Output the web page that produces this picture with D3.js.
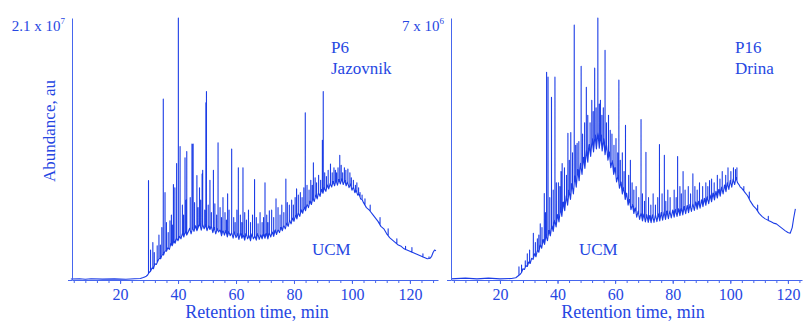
<!DOCTYPE html>
<html>
<head>
<meta charset="utf-8">
<script src="https://cdn.jsdelivr.net/npm/d3@7"></script>
<style>
  body { margin: 0; background: #fff; }
  text { font-family: "Liberation Serif", "Times New Roman", serif; fill: #2647e2; }
</style>
</head>
<body>
<div id="chart"></div>
<script>
// retention time (min) vs abundance (units of 1e6 au)
const tickLabels = [20, 40, 60, 80, 100, 120];

// P6 Jazovnik: noisy unresolved hump (UCM) and resolved peaks
const p6Base = [[3,0.08],[6,0.1],[8,0.06],[10,0.1],[14,0.07],[18,0.09],[22,0.06],[25,0.1],[27,0.12],[28,0.2],[28.5,0.25],[29,0.3],[29.5,0.4],[30,0.6],[30.5,0.7],[31,0.95],[31.5,0.9],[32,1.3],[32.5,1.25],[33,1.5],[33.5,1.75],[34,1.7],[34.5,2.05],[35,2.0],[35.5,2.35],[36,2.3],[36.5,2.6],[37,2.45],[37.5,2.9],[38,2.75],[38.5,3.1],[39,2.95],[39.5,3.35],[40,3.15],[40.5,3.5],[41,3.3],[41.5,3.75],[42,3.45],[42.5,3.9],[43,3.6],[43.5,3.85],[44,4.15],[44.5,3.7],[45,4.2],[45.5,3.9],[46,4.35],[46.5,3.95],[47,4.25],[47.5,4.5],[48,4.0],[48.5,4.45],[49,4.1],[49.5,4.4],[50,3.95],[50.5,4.35],[51,4.05],[51.5,4.3],[52,3.8],[52.5,4.2],[53,3.7],[53.5,4.1],[54,3.85],[54.5,4.05],[55,3.55],[55.5,4.0],[56,3.6],[56.5,3.95],[57,3.45],[57.5,3.9],[58,3.55],[58.5,3.8],[59,3.35],[59.5,3.85],[60,3.4],[60.5,3.7],[61,3.25],[61.5,3.8],[62,3.35],[62.5,3.6],[63,3.2],[63.5,3.75],[64,3.3],[64.5,3.55],[65,3.15],[65.5,3.7],[66,3.3],[66.5,3.5],[67,3.2],[67.5,3.75],[68,3.25],[68.5,3.6],[69,3.3],[69.5,3.7],[70,3.35],[70.5,3.75],[71,3.3],[71.5,3.8],[72,3.45],[72.5,3.85],[73,3.5],[73.5,4.0],[74,3.65],[74.5,4.05],[75,3.8],[75.5,4.2],[76,3.95],[76.5,4.4],[77,4.1],[77.5,4.55],[78,4.3],[78.5,4.8],[79,4.5],[79.5,4.95],[80,4.7],[80.5,5.2],[81,4.9],[81.5,5.4],[82,5.1],[82.5,5.6],[83,5.35],[83.5,5.85],[84,5.55],[84.5,6.1],[85,5.8],[85.5,6.3],[86,6.05],[86.5,6.55],[87,6.3],[87.5,6.8],[88,6.5],[88.5,7.0],[89,6.7],[89.5,7.25],[90,6.95],[90.5,7.4],[91,7.1],[91.5,7.6],[92,7.3],[92.5,7.75],[93,7.45],[93.5,7.9],[94,7.55],[94.5,8.0],[95,7.6],[95.5,8.05],[96,7.7],[96.5,8.1],[97,7.65],[97.5,8.0],[98,7.55],[98.5,7.85],[99,7.4],[99.5,7.7],[100,7.2],[100.5,7.45],[101,7.0],[101.5,7.15],[102,6.8],[102.5,6.85],[103,6.5],[103.5,6.45],[104,6.2],[105,5.8],[106,5.6],[107,5.3],[108,5.0],[109,4.7],[110,4.3],[111,4.1],[112,3.7],[113,3.4],[114,3.2],[115,3.0],[116,2.8],[117,2.7],[118,2.5],[119,2.4],[120,2.3],[121,2.2],[122,2.1],[123,2.0],[124,1.9],[125,1.8],[126,1.7],[127,1.75],[127.5,1.9],[128,2.2],[128.5,2.4],[129,2.35]];
const p6Peaks = [[29.8,7.97],[32.8,2.74],[34.9,14.5],[35.5,7.0],[37.2,4.75],[38.4,7.65],[38.9,7.4],[39.5,9.34],[40.1,21.0],[40.7,10.7],[42.4,9.8],[43.0,10.3],[44.8,10.9],[45.2,10.9],[46.5,8.37],[47.4,7.4],[48.3,8.5],[48.5,8.8],[49.6,14.2],[49.8,15.1],[51.0,8.0],[52.2,8.8],[53.8,11.0],[55.5,6.6],[57.1,6.9],[58.5,10.5],[60.8,9.0],[62.4,9.0],[66.4,8.05],[70.0,7.8],[71.5,5.55],[73.8,6.5],[77.2,8.1],[80.9,7.3],[83.9,13.4],[86.7,9.4],[89.8,11.2],[90.1,15.1],[92.6,9.3],[94.3,8.8],[95.2,9.0],[95.8,10.0],[98.6,8.9],[101.7,7.8]];
const p6Small = [[30.5,2.4],[31.3,3.0],[31.8,2.2],[33.4,3.6],[33.9,2.8],[34.4,4.2],[36.0,4.6],[36.6,3.8],[37.7,5.2],[38.0,4.4],[41.5,6.0],[41.9,5.2],[42.8,6.4],[44.2,6.6],[45.7,6.2],[46.9,5.8],[47.8,6.4],[49.2,5.6],[50.4,6.0],[51.5,5.4],[52.7,6.1],[53.3,5.2],[54.5,5.8],[55.0,5.0],[56.2,5.4],[56.7,4.8],[57.6,5.6],[59.2,5.0],[59.7,4.6],[60.3,5.6],[61.5,5.2],[62.0,4.6],[63.0,5.4],[63.6,4.8],[64.3,5.6],[65.0,4.6],[65.7,5.2],[67.0,5.0],[67.6,4.5],[68.3,5.4],[69.0,4.6],[69.5,5.0],[70.6,5.2],[71.0,4.6],[72.3,5.6],[73.0,5.0],[74.5,5.8],[75.2,5.2],[75.8,6.0],[76.5,5.4],[77.7,6.2],[78.4,6.0],[79.2,6.4],[79.8,6.0],[80.4,6.6],[81.5,6.8],[82.2,7.0],[82.8,6.6],[83.4,7.4],[84.5,7.6],[85.2,7.2],[85.8,8.0],[86.3,7.6],[87.3,8.2],[87.8,7.8],[88.5,8.4],[89.2,8.0],[90.6,8.6],[91.2,8.3],[91.8,8.8],[93.2,8.6],[93.8,9.0],[94.7,8.6],[96.3,9.2],[96.8,8.6],[97.4,9.0],[97.9,8.8],[99.3,8.6],[99.8,8.2],[100.5,8.0],[101.2,7.6],[102.3,7.4],[102.8,7.0],[103.5,6.8],[104.5,6.5],[106.3,6.0],[109.7,5.0],[112.5,4.1],[115.5,3.3],[118.5,2.7],[120.7,2.6],[124.5,2.1],[126.6,1.85]];

// P16 Drina
const p16Base = [[3,0.03],[8,0.05],[12,0.03],[16,0.05],[20,0.03],[24,0.04],[25.5,0.06],[27,0.15],[27.5,0.2],[28,0.3],[28.5,0.28],[29,0.38],[29.5,0.36],[30,0.48],[30.5,0.44],[31,0.58],[31.5,0.55],[32,0.7],[32.5,0.62],[33,0.8],[33.5,0.74],[34,0.95],[34.5,0.85],[35,1.08],[35.5,0.95],[36,1.2],[36.5,1.05],[37,1.32],[37.5,1.18],[38,1.45],[38.5,1.3],[39,1.6],[39.5,1.42],[40,1.75],[40.5,1.55],[41,1.92],[41.5,1.7],[42,2.08],[42.5,1.85],[43,2.25],[43.5,2.0],[44,2.4],[44.5,2.15],[45,2.58],[45.5,2.3],[46,2.78],[46.5,2.48],[47,2.95],[47.5,2.65],[48,3.12],[48.5,2.82],[49,3.28],[49.5,2.98],[50,3.48],[50.5,3.15],[51,3.62],[51.5,3.3],[52,3.78],[52.5,3.42],[53,3.88],[53.5,3.5],[54,3.95],[54.5,3.52],[55,3.88],[55.5,3.45],[56,3.78],[56.5,3.35],[57,3.62],[57.5,3.2],[58,3.42],[58.5,3.0],[59,3.2],[59.5,2.82],[60,3.0],[60.5,2.62],[61,2.8],[61.5,2.45],[62,2.62],[62.5,2.3],[63,2.48],[63.5,2.15],[64,2.32],[64.5,2.0],[65,2.15],[65.5,1.88],[66,2.02],[66.5,1.78],[67,1.92],[67.5,1.68],[68,1.84],[68.5,1.62],[69,1.8],[69.5,1.58],[70,1.76],[70.5,1.55],[71,1.74],[71.5,1.54],[72,1.72],[72.5,1.53],[73,1.74],[73.5,1.54],[74,1.75],[74.5,1.56],[75,1.77],[75.5,1.58],[76,1.8],[76.5,1.6],[77,1.82],[77.5,1.62],[78,1.84],[78.5,1.64],[79,1.85],[79.5,1.66],[80,1.87],[80.5,1.68],[81,1.89],[81.5,1.7],[82,1.9],[82.5,1.72],[83,1.93],[83.5,1.74],[84,1.96],[84.5,1.77],[85,1.99],[85.5,1.8],[86,2.02],[86.5,1.83],[87,2.05],[87.5,1.86],[88,2.08],[88.5,1.89],[89,2.1],[89.5,1.92],[90,2.14],[90.5,1.96],[91,2.18],[91.5,2.0],[92,2.22],[92.5,2.04],[93,2.27],[93.5,2.09],[94,2.32],[94.5,2.14],[95,2.37],[95.5,2.19],[96,2.42],[96.5,2.24],[97,2.48],[97.5,2.3],[98,2.54],[98.5,2.36],[99,2.6],[99.5,2.42],[100,2.66],[100.5,2.48],[101,2.7],[101.5,2.55],[102,2.74],[102.5,2.6],[103,2.55],[103.5,2.48],[104,2.45],[105,2.35],[106,2.25],[107,2.1],[108,1.98],[109,1.9],[110,1.78],[111,1.7],[112,1.64],[113,1.6],[114,1.56],[115,1.52],[116,1.5],[117,1.44],[118,1.38],[119,1.32],[120,1.27],[120.8,1.25],[121.5,1.4],[122,1.65],[122.6,1.9]];
const p16Peaks = [[26.6,0.35],[28.8,0.51],[31.6,1.25],[33.0,1.1],[34.0,1.5],[35.4,2.31],[36.2,5.55],[36.7,5.42],[37.9,4.88],[39.1,5.42],[40.3,2.6],[41.6,3.11],[43.6,3.92],[44.6,3.94],[45.8,6.81],[46.8,3.65],[48.2,5.71],[50.0,5.15],[51.9,4.8],[52.9,5.66],[54.0,7.0],[54.9,4.8],[56.5,6.14],[58.3,4.0],[60.3,3.78],[61.3,5.34],[63.6,4.13],[65.3,3.2],[69.0,4.29],[70.7,3.41],[75.4,3.62],[77.1,3.33],[81.7,3.3],[83.6,2.9],[87.0,2.84],[92.8,2.66]];
const p16Small = [[27.5,0.4],[29.5,0.7],[30.3,0.8],[32.3,1.0],[33.5,1.2],[34.6,1.4],[35.8,1.8],[37.3,2.2],[38.5,2.4],[39.6,2.6],[40.8,2.5],[41.2,2.9],[42.4,3.0],[43.1,2.8],[44.1,3.2],[45.2,3.4],[46.3,3.6],[47.4,3.7],[48.7,3.9],[49.4,4.2],[50.5,4.4],[51.3,4.2],[52.4,4.5],[53.4,4.6],[54.5,4.7],[55.4,4.4],[55.9,4.6],[57.0,4.2],[57.7,4.4],[58.9,3.9],[59.6,3.6],[60.9,3.4],[61.8,3.2],[62.5,3.4],[63.1,2.9],[64.7,2.8],[65.9,2.6],[66.5,2.4],[67.3,2.5],[68.2,2.2],[69.5,2.3],[70.2,2.1],[71.6,2.2],[72.4,2.0],[73.2,2.3],[74.0,2.0],[74.8,2.2],[76.3,2.3],[77.6,2.1],[78.3,2.4],[79.1,2.2],[80.5,2.4],[81.2,2.2],[82.5,2.5],[83.0,2.3],[84.3,2.4],[85.4,2.5],[86.2,2.3],[87.7,2.5],[88.5,2.4],[89.3,2.6],[90.4,2.5],[91.5,2.6],[92.2,2.5],[93.5,2.7],[94.4,2.6],[95.5,2.8],[96.4,2.7],[97.2,2.9],[98.4,2.8],[99.2,3.0],[100.2,2.9],[101.1,3.0],[101.8,2.95],[102.3,3.0],[104.7,2.5],[106.6,2.35],[109.5,2.0],[113.2,1.7]];

const width = 807, height = 323;
const traceColor = "#1c3de6";
const axisColor = "#4666ee";

const svg = d3.select("#chart").append("svg")
  .attr("width", width)
  .attr("height", height);

// baseline value under a spike, so the spike starts on the hump
function baseAt(base, t) {
  const i = d3.bisector(d => d[0]).left(base, t);
  if (i <= 0) return base[0][1];
  if (i >= base.length) return base[base.length - 1][1];
  const a = base[i - 1], b = base[i];
  return a[1] + (b[1] - a[1]) * (t - a[0]) / (b[0] - a[0]);
}

function drawPanel(p) {
  const x = d3.scaleLinear().domain(p.xDomain).range(p.xRange);
  const y = d3.scaleLinear().domain([0, p.yMax]).range([280, 18]);
  const g = svg.append("g");

  // merge hump and spikes into one trace
  const spikes = p.peaks.concat(p.small);
  const pts = p.base.map(d => ({ t: d[0], v: d[1], k: 0 }));
  spikes.forEach(s => {
    const b = baseAt(p.base, s[0]);
    pts.push({ t: s[0] - 0.001, v: b, k: 1 });
    pts.push({ t: s[0], v: s[1], k: 2 });
    pts.push({ t: s[0] + 0.001, v: b, k: 3 });
  });
  pts.sort((a, b) => a.t - b.t || a.k - b.k);

  const line = d3.line().x(d => x(d.t)).y(d => y(d.v));
  g.append("path")
    .datum(pts)
    .attr("d", line)
    .attr("fill", "none")
    .attr("stroke", traceColor)
    .attr("stroke-width", 1.1)
    .attr("stroke-linejoin", "round");

  // x axis: labelled ticks every 20 min, minor every 4 min
  const minor = d3.range(4, p.xDomain[1], 4);
  g.append("g")
    .attr("transform", "translate(0,280)")
    .call(d3.axisBottom(x).tickValues(minor).tickSize(3).tickSizeOuter(0).tickFormat(""))
    .call(a => a.selectAll("path,line").attr("stroke", axisColor));
  g.append("g")
    .attr("transform", "translate(0,280)")
    .call(d3.axisBottom(x).tickValues(tickLabels).tickSize(4).tickSizeOuter(0).tickPadding(5))
    .call(a => a.select(".domain").remove())
    .call(a => a.selectAll("line").attr("stroke", axisColor))
    .call(a => a.selectAll("text")
      .attr("fill", "#2647e2")
      .style("font-size", "16px")
      .style("font-family", '"Liberation Serif", serif'));

  // y axis: bare line with a tick at zero
  g.append("g")
    .attr("transform", `translate(${p.xRange[0]},0)`)
    .call(d3.axisLeft(y).tickValues([0]).tickSize(4).tickSizeOuter(0).tickFormat(""))
    .call(a => a.selectAll("path,line").attr("stroke", axisColor));

  const sc = g.append("text")
    .attr("x", p.xRange[0] - 7)
    .attr("y", 31)
    .attr("text-anchor", "end")
    .style("font-size", "15px");
  sc.append("tspan").text(p.scaleText);
  sc.append("tspan").attr("dy", -7).style("font-size", "9px").text(p.scaleExp);

  g.append("text").attr("x", p.nameX).attr("y", 53).style("font-size", "17px").text(p.name1);
  g.append("text").attr("x", p.nameX).attr("y", 74).style("font-size", "17px").text(p.name2);
  g.append("text").attr("x", p.ucmX).attr("y", 255).style("font-size", "17px").text("UCM");

  g.append("text")
    .attr("x", p.titleX)
    .attr("y", 318)
    .attr("text-anchor", "middle")
    .style("font-size", "18px")
    .text("Retention time, min");
}

drawPanel({
  base: p6Base, peaks: p6Peaks, small: p6Small,
  xDomain: [3.4, 129.7], xRange: [72, 438], yMax: 21,
  scaleText: "2.1 x 10", scaleExp: "7",
  name1: "P6", name2: "Jazovnik", nameX: 331, ucmX: 312, titleX: 257
});

drawPanel({
  base: p16Base, peaks: p16Peaks, small: p16Small,
  xDomain: [3, 124.9], xRange: [451, 802], yMax: 7,
  scaleText: "7 x 10", scaleExp: "6",
  name1: "P16", name2: "Drina", nameX: 735, ucmX: 579, titleX: 633
});

svg.append("text")
  .attr("transform", "translate(55,131) rotate(-90)")
  .attr("text-anchor", "middle")
  .style("font-size", "17px")
  .text("Abundance, au");
</script>
</body>
</html>
